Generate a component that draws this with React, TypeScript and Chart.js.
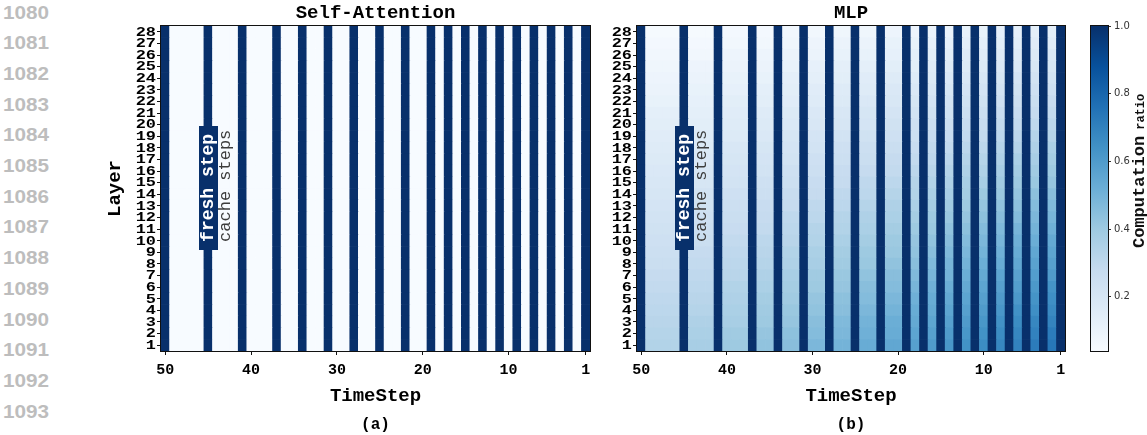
import React, { useEffect, useRef } from "react";
import { Chart, registerables } from "chart.js";

Chart.register(...registerables);

// ---- data -------------------------------------------------------------
const timeSteps = [
  50, 49, 48, 47, 46, 45, 44, 43, 42, 41, 40, 39, 38, 37, 36, 35, 34, 33, 32, 31,
  30, 29, 28, 27, 26, 25, 24, 23, 22, 21, 20, 19, 18, 17, 16, 15, 14, 13, 12, 11,
  10, 9, 8, 7, 6, 5, 4, 3, 2, 1,
];
const layers = [
  1, 2, 3, 4, 5, 6, 7, 8, 9, 10, 11, 12, 13, 14, 15, 16, 17, 18, 19, 20, 21, 22,
  23, 24, 25, 26, 27, 28,
];
// steps where every block is recomputed
const freshSteps = [50, 45, 41, 37, 34, 31, 28, 25, 22, 19, 17, 15, 13, 11, 9, 7, 5, 3, 1];
const xTickSteps = [50, 40, 30, 20, 10, 1];

const attnFreshRatio = 1.0;
const attnCacheRatio = 0.04;
const mlpFreshRatio = 1.0;
// MLP computation ratio (%) on cached steps.
// One row per layer (28 first, 1 last); one column per cache span,
// i.e. the steps that follow fresh step 50, 45, 41, 37, 34, 31, 28, 25, 22, 19, 17, 15, 13, 11, 9, 7, 5, 3.
const mlpCachePct = [
  [5, 5, 6, 6, 7, 7, 8, 8, 9, 9, 10, 10, 11, 11, 12, 12, 13, 13],
  [6, 6, 7, 7, 8, 9, 10, 10, 11, 11, 12, 12, 13, 13, 14, 14, 15, 15],
  [7, 7, 9, 9, 10, 10, 11, 11, 12, 13, 14, 14, 15, 15, 16, 16, 17, 18],
  [8, 9, 10, 10, 11, 12, 13, 13, 14, 14, 16, 16, 17, 17, 18, 18, 20, 20],
  [9, 10, 11, 11, 13, 13, 14, 15, 16, 16, 17, 18, 19, 19, 20, 21, 22, 22],
  [10, 11, 12, 13, 14, 15, 16, 16, 18, 18, 19, 20, 21, 21, 22, 23, 24, 24],
  [11, 12, 14, 14, 15, 16, 17, 18, 19, 20, 21, 22, 23, 23, 24, 25, 26, 27],
  [13, 13, 15, 16, 17, 18, 19, 20, 21, 22, 23, 23, 25, 25, 27, 27, 28, 29],
  [14, 14, 16, 17, 18, 19, 20, 21, 23, 24, 25, 25, 27, 27, 29, 29, 30, 31],
  [15, 16, 17, 18, 20, 21, 22, 23, 24, 25, 27, 27, 29, 29, 31, 31, 33, 33],
  [16, 17, 19, 20, 21, 22, 24, 25, 26, 27, 29, 29, 31, 31, 33, 33, 35, 36],
  [17, 18, 20, 21, 22, 24, 25, 26, 28, 29, 30, 31, 33, 33, 35, 36, 37, 38],
  [18, 19, 21, 22, 24, 25, 27, 28, 29, 31, 32, 33, 35, 35, 37, 38, 39, 40],
  [19, 20, 22, 24, 25, 27, 28, 30, 31, 33, 34, 35, 37, 37, 39, 40, 41, 42],
  [20, 22, 24, 25, 27, 28, 30, 31, 33, 34, 36, 37, 38, 40, 41, 42, 44, 45],
  [21, 23, 25, 27, 28, 30, 31, 33, 35, 36, 38, 39, 40, 42, 43, 44, 46, 47],
  [22, 24, 26, 28, 30, 31, 33, 35, 36, 38, 40, 41, 42, 44, 45, 46, 48, 49],
  [23, 25, 27, 29, 31, 33, 34, 36, 38, 40, 41, 43, 44, 46, 47, 49, 50, 51],
  [24, 26, 29, 31, 32, 34, 36, 38, 40, 42, 43, 45, 46, 48, 49, 51, 52, 54],
  [25, 28, 30, 32, 34, 36, 38, 40, 41, 43, 45, 47, 48, 50, 51, 53, 55, 56],
  [26, 29, 31, 33, 35, 37, 39, 41, 43, 45, 47, 49, 50, 52, 53, 55, 57, 58],
  [28, 30, 32, 35, 37, 39, 41, 43, 45, 47, 49, 50, 52, 54, 56, 57, 59, 60],
  [29, 31, 34, 36, 38, 40, 42, 45, 46, 49, 51, 52, 54, 56, 58, 59, 61, 63],
  [30, 32, 35, 38, 39, 42, 44, 46, 48, 51, 53, 54, 56, 58, 60, 61, 63, 65],
  [31, 33, 36, 39, 41, 43, 45, 48, 50, 53, 54, 56, 58, 60, 62, 64, 65, 67],
  [32, 35, 37, 40, 42, 45, 47, 50, 52, 54, 56, 58, 60, 62, 64, 66, 68, 69],
  [33, 36, 39, 42, 44, 46, 48, 51, 53, 56, 58, 60, 62, 64, 66, 68, 70, 72],
  [34, 37, 40, 43, 45, 48, 50, 53, 55, 58, 60, 62, 64, 66, 68, 70, 72, 74],
];
const ratioMin = 0.04;
const ratioMax = 1.0;
const colorbarTicks = [0.2, 0.4, 0.6, 0.8, 1.0];
const lineNumbers = [1080, 1081, 1082, 1083, 1084, 1085, 1086, 1087, 1088, 1089, 1090, 1091, 1092, 1093];

// ---- colour map (matplotlib "Blues") ---------------------------------
const MONO = '"Courier New", "Nimbus Mono PS", "Liberation Mono", monospace';
const bluesStops = ["#f7fbff", "#deebf7", "#c6dbef", "#9ecae1", "#6baed6", "#4292c6", "#2171b5", "#08519c", "#08306b"];

function hexToRgb(h: string) {
  return [parseInt(h.slice(1, 3), 16), parseInt(h.slice(3, 5), 16), parseInt(h.slice(5, 7), 16)];
}
const bluesRgb = bluesStops.map(hexToRgb);

function blues(t: number) {
  const c = Math.max(0, Math.min(1, t));
  const p = c * (bluesRgb.length - 1);
  const i = Math.min(Math.floor(p), bluesRgb.length - 2);
  const f = p - i;
  const a = bluesRgb[i];
  const b = bluesRgb[i + 1];
  const m = a.map((v, k) => Math.round(v + (b[k] - v) * f));
  return `rgb(${m[0]},${m[1]},${m[2]})`;
}
const normRatio = (v: number) => (v - ratioMin) / (ratioMax - ratioMin);

type Panel = "attn" | "mlp";

function ratioAt(panel: Panel, layer: number, step: number) {
  const fresh = freshSteps.includes(step);
  if (panel === "attn") return fresh ? attnFreshRatio : attnCacheRatio;
  if (fresh) return mlpFreshRatio;
  const span = freshSteps.filter((f) => f > step).length - 1;
  return mlpCachePct[layers.length - layer][span] / 100;
}

// ---- plugins ----------------------------------------------------------
const framePlugin = {
  id: "frame",
  afterDraw(chart: any) {
    const { ctx, chartArea: a } = chart;
    ctx.save();
    ctx.strokeStyle = "#111";
    ctx.lineWidth = 1;
    ctx.strokeRect(a.left - 0.5, a.top - 0.5, a.width + 1, a.height + 1);
    ctx.restore();
  },
};

// layer numbers, drawn slightly widened as in the typeset figure
const layerLabelsPlugin = {
  id: "layerLabels",
  afterDraw(chart: any) {
    const s = chart.scales.y;
    const ctx = chart.ctx;
    ctx.save();
    ctx.font = `bold 13px ${MONO}`;
    ctx.fillStyle = "#000";
    ctx.textAlign = "right";
    ctx.textBaseline = "middle";
    s.ticks.forEach((t: any) => {
      const y = s.getPixelForValue(t.value);
      ctx.save();
      ctx.translate(s.right - 5, y + 0.5);
      ctx.scale(1.3, 1);
      ctx.fillText(String(Math.round(t.value + 0.5)), 0, 0);
      ctx.restore();
    });
    ctx.restore();
  },
};

// "fresh step" / "cache steps" note next to the step-45 column
const noteLayer = 9.4;
const stepNotePlugin = {
  id: "stepNote",
  afterDatasetsDraw(chart: any) {
    const { ctx } = chart;
    const { x, y } = chart.scales;
    const fx = x.getPixelForValue(timeSteps.indexOf(45));
    const cx = x.getPixelForValue(timeSteps.indexOf(43));
    const y0 = y.getPixelForValue(noteLayer);
    ctx.save();
    ctx.font = `bold 18px ${MONO}`;
    const fw = ctx.measureText("fresh step").width;
    ctx.fillStyle = "#08306b";
    ctx.fillRect(Math.round(fx - 9.5), Math.round(y0 - fw - 8), 19, Math.round(fw + 16));
    ctx.save();
    ctx.translate(fx, y0);
    ctx.rotate(-Math.PI / 2);
    ctx.fillStyle = "#ffffff";
    ctx.textAlign = "left";
    ctx.textBaseline = "middle";
    ctx.fillText("fresh step", 0, 0);
    ctx.restore();
    ctx.save();
    ctx.translate(cx, y0);
    ctx.rotate(-Math.PI / 2);
    ctx.font = `17px ${MONO}`;
    ctx.fillStyle = "#3c3c3c";
    ctx.textAlign = "left";
    ctx.textBaseline = "middle";
    ctx.fillText("cache steps", 0, 0);
    ctx.restore();
    ctx.restore();
  },
};

const colorbarLabelPlugin = {
  id: "colorbarLabel",
  afterDraw(chart: any) {
    const ctx = chart.ctx;
    const a = chart.chartArea;
    ctx.save();
    ctx.translate(a.right + 36, 248);
    ctx.rotate(-Math.PI / 2);
    ctx.fillStyle = "#111";
    ctx.textAlign = "left";
    ctx.textBaseline = "alphabetic";
    ctx.font = `bold 17px ${MONO}`;
    ctx.fillText("Computation", 0, 0);
    const w = ctx.measureText("Computation").width;
    ctx.font = `bold 12px ${MONO}`;
    ctx.fillText("ratio", w + 6, 0);
    ctx.restore();
  },
};

// ---- chart configs ----------------------------------------------------
function heatmapConfig(panel: Panel, title: string, sub: string, showYTitle: boolean, padLeft: number, padRight: number): any {
  const datasets = layers.map((layer) => ({
    label: `Layer ${layer}`,
    data: timeSteps.map(() => 1),
    backgroundColor: timeSteps.map((step) => blues(normRatio(ratioAt(panel, layer, step)))),
    borderWidth: 0,
    barPercentage: 1,
    categoryPercentage: 1,
  }));
  const boldFont = (size: number, lh: string) => ({ family: MONO, size, weight: "bold", lineHeight: lh });
  return {
    type: "bar",
    data: { labels: timeSteps.map(String), datasets },
    options: {
      responsive: false,
      animation: false,
      events: [],
      layout: { padding: { left: padLeft, right: padRight, top: 0, bottom: 0 } },
      plugins: {
        legend: { display: false },
        tooltip: { enabled: false },
        title: {
          display: true,
          text: title,
          fullSize: false,
          color: "#000",
          font: boldFont(19, "22px"),
          padding: { top: 2, bottom: 2 },
        },
        subtitle: {
          display: true,
          text: sub,
          position: "bottom",
          fullSize: false,
          color: "#000",
          font: boldFont(16, "19px"),
          padding: { top: 0, bottom: 1 },
        },
      },
      scales: {
        x: {
          type: "category",
          stacked: true,
          offset: true,
          grid: {
            offset: false,
            drawOnChartArea: false,
            drawTicks: true,
            tickLength: 4,
            color: "#111",
            tickColor: (c: any) => (xTickSteps.includes(timeSteps[c.index]) ? "#111" : "rgba(0,0,0,0)"),
          },
          border: { display: false },
          ticks: {
            autoSkip: false,
            maxRotation: 0,
            minRotation: 0,
            padding: 6,
            color: "#000",
            font: boldFont(15, "18px"),
            callback: (_v: any, i: number) => (xTickSteps.includes(timeSteps[i]) ? String(timeSteps[i]) : ""),
          },
          title: {
            display: true,
            text: "TimeStep",
            color: "#000",
            font: boldFont(19, "22px"),
            padding: { top: 0, bottom: 8 },
          },
          afterFit: (s: any) => {
            s.height = 64;
          },
        },
        y: {
          type: "linear",
          stacked: true,
          min: 0,
          max: layers.length,
          afterBuildTicks: (s: any) => {
            s.ticks = layers.map((l) => ({ value: l - 0.5 }));
          },
          grid: { drawOnChartArea: false, drawTicks: true, tickLength: 4, color: "#111" },
          border: { display: false },
          ticks: { display: false },
          title: {
            display: showYTitle,
            text: "Layer",
            color: "#000",
            font: boldFont(19, "22px"),
            padding: { top: 4, bottom: 0 },
          },
          afterFit: (s: any) => {
            s.width = 61;
          },
        },
      },
    },
    plugins: [framePlugin, layerLabelsPlugin, stepNotePlugin],
  };
}

function colorbarConfig(): any {
  return {
    type: "bar",
    data: {
      labels: ["ratio"],
      datasets: [
        {
          data: [[ratioMin, ratioMax]],
          borderWidth: 0,
          barPercentage: 1,
          categoryPercentage: 1,
          backgroundColor: (c: any) => {
            const chart = c.chart;
            const y = chart.scales && chart.scales.y;
            if (!chart.chartArea || !y) return bluesStops[4];
            const g = chart.ctx.createLinearGradient(0, y.getPixelForValue(ratioMin), 0, y.getPixelForValue(ratioMax));
            bluesStops.forEach((col, k) => g.addColorStop(k / (bluesStops.length - 1), col));
            return g;
          },
        },
      ],
    },
    options: {
      responsive: false,
      animation: false,
      events: [],
      layout: { padding: { left: 1091, right: 0, top: 26, bottom: 84 } },
      plugins: { legend: { display: false }, tooltip: { enabled: false } },
      scales: {
        x: { display: false },
        y: {
          position: "right",
          min: ratioMin,
          max: ratioMax,
          afterBuildTicks: (s: any) => {
            s.ticks = colorbarTicks.map((v) => ({ value: v }));
          },
          grid: { drawOnChartArea: false, drawTicks: true, tickLength: 3, color: "#333" },
          border: { display: false },
          ticks: {
            padding: 3,
            color: "#333",
            font: { family: '"DejaVu Sans", sans-serif', size: 10 },
            callback: (v: any) => Number(v).toFixed(1),
          },
          afterFit: (s: any) => {
            s.width = 39;
          },
        },
      },
    },
    plugins: [framePlugin, colorbarLabelPlugin],
  };
}

// ---- component --------------------------------------------------------
export default function App() {
  const attnRef = useRef<HTMLCanvasElement>(null);
  const mlpRef = useRef<HTMLCanvasElement>(null);
  const barRef = useRef<HTMLCanvasElement>(null);

  useEffect(() => {
    const charts: Chart[] = [];
    if (attnRef.current) charts.push(new Chart(attnRef.current, heatmapConfig("attn", "Self-Attention", "(a)", true, 100, 557)));
    if (mlpRef.current) charts.push(new Chart(mlpRef.current, heatmapConfig("mlp", "MLP", "(b)", false, 576, 82)));
    if (barRef.current) charts.push(new Chart(barRef.current, colorbarConfig()));
    return () => charts.forEach((c) => c.destroy());
  }, []);

  const layerStyle: React.CSSProperties = { position: "absolute", left: 0, top: 0 };

  return (
    <div style={{ position: "absolute", left: 0, top: 0, width: 1147, height: 435, background: "#fff", overflow: "hidden" }}>
      {lineNumbers.map((n, i) => (
        <div
          key={n}
          style={{
            position: "absolute",
            left: 3,
            top: 13.5 + 30.7 * i - 11,
            height: 22,
            lineHeight: "22px",
            font: 'bold 18px "Liberation Sans", Arial, sans-serif',
            color: "#bdbdbd",
            transform: "scaleX(1.15)",
            transformOrigin: "left center",
          }}
        >
          {n}
        </div>
      ))}
      <canvas ref={attnRef} width={1147} height={435} style={layerStyle} />
      <canvas ref={mlpRef} width={1147} height={435} style={layerStyle} />
      <canvas ref={barRef} width={1147} height={435} style={layerStyle} />
    </div>
  );
}
